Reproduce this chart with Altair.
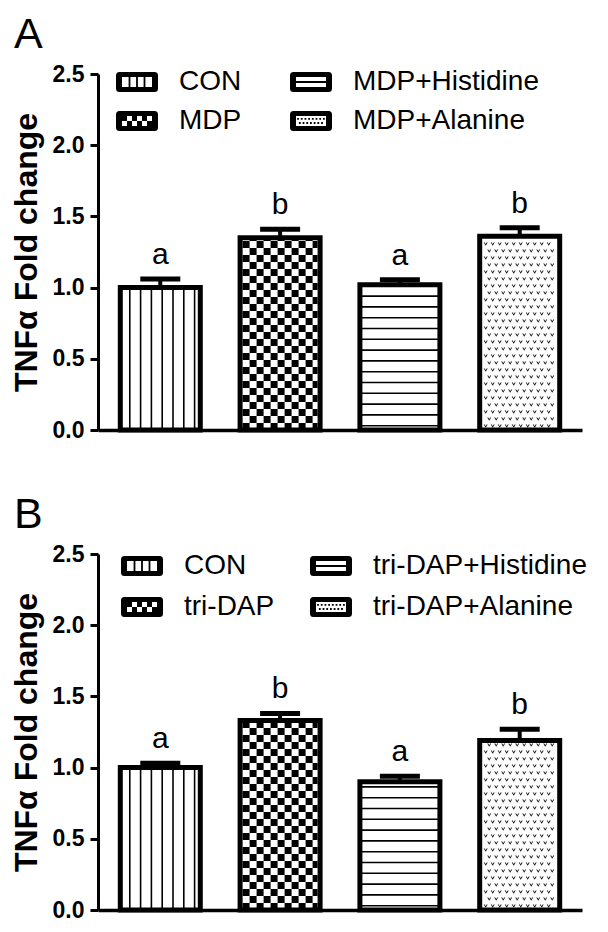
import math
import altair as alt
import pandas as pd

FONT = "Liberation Sans"

# ---------------- data ----------------
groups_A = ["CON", "MDP", "MDP+Histidine", "MDP+Alanine"]
means_A = [1.00, 1.35, 1.02, 1.36]
sems_A = [0.06, 0.06, 0.035, 0.06]
letters_A = ["a", "b", "a", "b"]

groups_B = ["CON", "tri-DAP", "tri-DAP+Histidine", "tri-DAP+Alanine"]
means_B = [1.00, 1.33, 0.90, 1.19]
sems_B = [0.03, 0.05, 0.04, 0.08]
letters_B = ["a", "b", "a", "b"]

patterns = ["vstripe", "checker", "hstripe", "dots"]
y_ticks = [0.0, 0.5, 1.0, 1.5, 2.0, 2.5]
y_title = "TNFα Fold change"
panel_labels = ["A", "B"]

# ---------------- style / geometry ----------------
W, H = 484, 356
X_DOMAIN = [-0.52, 3.52]
Y_DOMAIN = [0.0, 2.5]
PXU = W / (X_DOMAIN[1] - X_DOMAIN[0])
PYU = H / (Y_DOMAIN[1] - Y_DOMAIN[0])
BAR_HALF_PX = 40
CAP_HALF_PX = 20
V_SHAPE = "M-1,-0.8L0,0.9L1,-0.8L0.45,-0.8L0,0.1L-0.45,-0.8Z"


# ---------- legend symbol paths (unit coords, 1 unit = 10 px) ----------
def rect_cw(x0, y0, x1, y1):
    return f"M{x0:.3f},{y0:.3f}H{x1:.3f}V{y1:.3f}H{x0:.3f}Z"


def rect_ccw(x0, y0, x1, y1):
    return f"M{x0:.3f},{y0:.3f}V{y1:.3f}H{x1:.3f}V{y0:.3f}Z"


def frame_path(w=2.1, h=1.0, r=0.35, iw=1.5, ih=0.5):
    outer = (f"M{-w + r:.3f},{-h:.3f}H{w - r:.3f}Q{w:.3f},{-h:.3f} {w:.3f},{-h + r:.3f}"
             f"V{h - r:.3f}Q{w:.3f},{h:.3f} {w - r:.3f},{h:.3f}H{-w + r:.3f}"
             f"Q{-w:.3f},{h:.3f} {-w:.3f},{h - r:.3f}V{-h + r:.3f}"
             f"Q{-w:.3f},{-h:.3f} {-w + r:.3f},{-h:.3f}Z")
    return outer + rect_ccw(-iw, -ih, iw, ih)


def legend_path(p):
    s = frame_path()
    if p == "vstripe":
        for x in (-0.75, 0.0, 0.75):
            s += rect_cw(x - 0.09, -0.5, x + 0.09, 0.5)
    elif p == "hstripe":
        s += rect_cw(-1.5, -0.09, 1.5, 0.09)
    elif p == "checker":
        for r in range(2):
            for c in range(6):
                if (r + c) % 2 == 0:
                    s += rect_cw(-1.5 + c * 0.5, -0.5 + r * 0.5, -1.5 + (c + 1) * 0.5, -0.5 + (r + 1) * 0.5)
    elif p == "dots":
        for r, y in enumerate([-0.22, 0.2]):
            for c in range(8):
                x = -1.3 + c * 0.37 + (0.18 if r else 0.0)
                if x < 1.4:
                    s += rect_cw(x - 0.09, y - 0.09, x + 0.09, y + 0.09)
    return s


def build_panel(label, groups, means, sems, letters, leg, title_offset):
    bars = pd.DataFrame({
        "grp": groups, "idx": list(range(len(groups))), "mean": means, "sem": sems,
        "letter": letters, "pattern": patterns,
    })
    bars["top"] = bars["mean"] + bars["sem"]
    bars["base"] = 0.0
    bars["x0"] = bars["idx"] - BAR_HALF_PX / PXU
    bars["x1"] = bars["idx"] + BAR_HALF_PX / PXU
    bars["c0"] = bars["idx"] - CAP_HALF_PX / PXU
    bars["c1"] = bars["idx"] + CAP_HALF_PX / PXU

    vlines, hlines, cells, dots = [], [], [], []
    for i, m, p in zip(bars["idx"], bars["mean"], patterns):
        top_px = m * PYU
        if p == "vstripe":
            off = 9.5
            while off < 2 * BAR_HALF_PX - 3:
                vlines.append({"x": i + (off - BAR_HALF_PX) / PXU, "y0": 0.0, "y1": m})
                off += 10.8
        elif p == "hstripe":
            off = 4.3
            while off < top_px - 4:
                hlines.append({"y": off / PYU, "x0": i - BAR_HALF_PX / PXU, "x1": i + BAR_HALF_PX / PXU})
                off += 10.8
        elif p == "checker":
            inner = BAR_HALF_PX - 2.5
            cs = 7.0
            nx = math.ceil(2 * inner / cs)
            ny = math.ceil(top_px / cs)
            for a in range(nx):
                for b in range(ny):
                    if (a + b) % 2 == 0:
                        x0p = -inner + a * cs
                        x1p = min(x0p + cs, inner)
                        y0p = b * cs
                        y1p = min(y0p + cs, top_px)
                        cells.append({"x0": i + x0p / PXU, "x1": i + x1p / PXU,
                                      "y0": y0p / PYU, "y1": y1p / PYU})
        elif p == "dots":
            inner = BAR_HALF_PX - 4
            step = 7.0
            yp = 4.0
            r = 0
            while yp < top_px - 4:
                xp = -inner + (step / 2 if r % 2 else 0.0) + 2
                while xp < inner - 1:
                    dots.append({"x": i + xp / PXU, "y": yp / PYU})
                    xp += step
                yp += step
                r += 1

    xscale = alt.Scale(domain=X_DOMAIN, nice=False, zero=False)
    yscale = alt.Scale(domain=Y_DOMAIN, nice=False, zero=True)
    xaxis = alt.Axis(labels=False, ticks=False, grid=False, domainWidth=3.5, domainColor="black")
    yaxis = alt.Axis(values=y_ticks, format=".1f", grid=False, labelFont=FONT, labelFontSize=23,
                     labelFontWeight="bold", labelColor="black", labelPadding=6, labelFlush=False,
                     tickSize=8, tickWidth=3, tickColor="black", domainWidth=3, domainColor="black",
                     titleFont=FONT, titleFontSize=32, titleFontWeight="bold", titleColor="black",
                     titlePadding=9)

    def X(f):
        return alt.X(f"{f}:Q", scale=xscale, axis=xaxis, title=None)

    def Y(f):
        return alt.Y(f"{f}:Q", scale=yscale, axis=yaxis, title=y_title)

    bg = alt.Chart(bars).mark_rect(fill="white").encode(x=X("x0"), x2="x1", y=Y("base"), y2="mean")
    vl = alt.Chart(pd.DataFrame(vlines)).mark_rule(color="black", strokeWidth=1.6).encode(
        x=X("x"), y=Y("y0"), y2="y1")
    hl = alt.Chart(pd.DataFrame(hlines)).mark_rule(color="black", strokeWidth=1.6).encode(
        x=X("x0"), x2="x1", y=Y("y"))
    ck = alt.Chart(pd.DataFrame(cells)).mark_rect(color="black").encode(
        x=X("x0"), x2="x1", y=Y("y0"), y2="y1")
    dt = alt.Chart(pd.DataFrame(dots)).mark_point(shape=V_SHAPE, filled=True, size=16,
                                                  color="#111", opacity=1).encode(x=X("x"), y=Y("y"))
    outline = alt.Chart(bars).mark_rect(fill="white", fillOpacity=0, stroke="black", strokeWidth=5).encode(
        x=X("x0"), x2="x1", y=Y("base"), y2="mean")
    stem = alt.Chart(bars).mark_rule(color="black", strokeWidth=4).encode(x=X("idx"), y=Y("mean"), y2="top")
    cap = alt.Chart(bars).mark_rule(color="black", strokeWidth=5).encode(x=X("c0"), x2="c1", y=Y("top"))
    txt = alt.Chart(bars).mark_text(font=FONT, fontSize=30, baseline="alphabetic", dy=-15, color="black").encode(
        x=X("idx"), y=Y("top"), text="letter:N")

    order = list(groups)
    pat_of = dict(zip(groups, patterns))
    shapes = [legend_path(pat_of[g]) for g in order]
    lg = alt.Chart(bars).transform_filter("false").mark_point(
        filled=True, size=400, color="black", strokeWidth=0, opacity=1).encode(
        x=X("idx"), y=Y("mean"),
        shape=alt.Shape("grp:N", scale=alt.Scale(domain=order, range=shapes),
                        legend=alt.Legend(title=None, orient="none", legendX=leg["x"], legendY=leg["y"],
                                          columns=2, columnPadding=leg["cp"], rowPadding=leg["rp"],
                                          labelFont=FONT, labelFontSize=28, labelColor="black",
                                          labelOffset=28, labelLimit=400, symbolSize=400,
                                          symbolStrokeWidth=0, symbolFillColor="black",
                                          symbolOpacity=1, padding=0)))

    return alt.layer(bg, vl, hl, ck, dt, outline, stem, cap, txt, lg).properties(
        width=W, height=H,
        title=alt.TitleParams(text=label, anchor="start", frame="bounds", font=FONT, fontSize=43,
                              fontWeight="normal", color="black", offset=title_offset, dx=4),
    )


pA = build_panel(panel_labels[0], groups_A, means_A, sems_A, letters_A,
                 {"x": 25, "y": -6, "cp": 48, "rp": 11}, 6)
pB = build_panel(panel_labels[1], groups_B, means_B, sems_B, letters_B,
                 {"x": 30, "y": -2, "cp": 35, "rp": 13}, 6)

chart = (
    alt.vconcat(pA, pB, spacing=52)
    .resolve_scale(x="independent", y="independent", shape="independent")
    .resolve_legend(shape="independent")
    .properties(padding={"left": 2, "top": 6, "right": 0, "bottom": 0})
    .configure_view(strokeWidth=0)
)

chart.save("out.html", embed_options={"renderer": "svg", "actions": False})
